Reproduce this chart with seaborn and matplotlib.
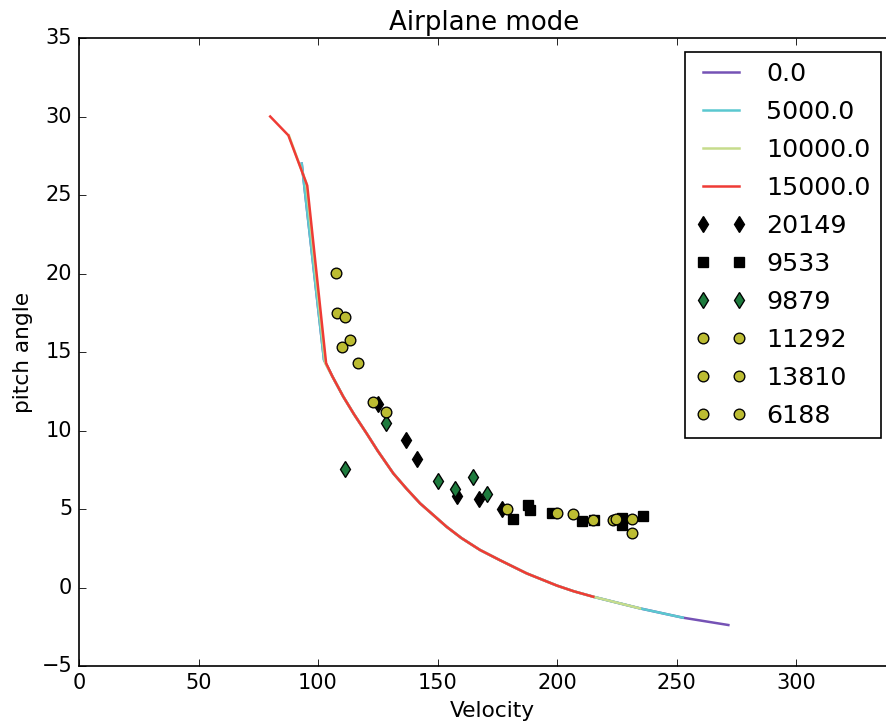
import matplotlib
matplotlib.use("Agg")
import matplotlib.pyplot as plt
import seaborn as sns
import pandas as pd

# ---- data ----
line_labels = ["0.0", "5000.0", "10000.0", "15000.0"]
line_colors = ["#7552b5", "#5bc8d0", "#c6dc8c", "#ef3b35"]

v_0 = [93.2, 102.5, 106.0, 110.6, 115.0, 120.4, 125.0, 131.5, 137.0, 142.7, 148.0,
       153.8, 160.0, 167.8, 176.0, 187.3, 200.0, 207.0, 215.2, 234.7, 252.6, 271.7]
p_0 = [27.0, 14.5, 13.45, 12.15, 11.05, 9.8, 8.7, 7.27, 6.3, 5.36, 4.65,
       3.87, 3.15, 2.39, 1.75, 0.9, 0.12, -0.24, -0.59, -1.33, -1.92, -2.39]

v_5000 = [93.2, 102.5, 106.0, 110.6, 115.0, 120.4, 125.0, 131.5, 137.0, 142.7, 148.0,
          153.8, 160.0, 167.8, 176.0, 187.3, 200.0, 207.0, 215.2, 234.7, 252.6]
p_5000 = [27.0, 14.5, 13.45, 12.15, 11.05, 9.8, 8.7, 7.27, 6.3, 5.36, 4.65,
          3.87, 3.15, 2.39, 1.75, 0.9, 0.12, -0.24, -0.59, -1.33, -1.92]

v_10000 = [87.8, 95.0, 103.0, 106.0, 110.6, 115.0, 120.4, 125.0, 131.5, 137.0, 142.7, 148.0,
           153.8, 160.0, 167.8, 176.0, 187.3, 200.0, 207.0, 215.2, 234.7]
p_10000 = [28.8, 25.8, 14.3, 13.45, 12.15, 11.05, 9.8, 8.7, 7.27, 6.3, 5.36, 4.65,
           3.87, 3.15, 2.39, 1.75, 0.9, 0.12, -0.24, -0.59, -1.33]

v_15000 = [80.0, 87.6, 95.5, 103.4, 106.0, 110.6, 115.0, 120.4, 125.0, 131.5, 137.0, 142.7, 148.0,
           153.8, 160.0, 167.8, 176.0, 187.3, 200.0, 207.0, 215.2]
p_15000 = [30.0, 28.8, 25.6, 14.28, 13.45, 12.15, 11.05, 9.8, 8.7, 7.27, 6.3, 5.36, 4.65,
           3.87, 3.15, 2.39, 1.75, 0.9, 0.12, -0.24, -0.59]

v_20149 = [125.2, 136.7, 141.6, 158.0, 167.4, 177.0]
p_20149 = [11.7, 9.4, 8.17, 5.85, 5.64, 5.02]

v_9533 = [181.6, 187.7, 188.7, 197.8, 210.3, 215.5, 227.2, 227.2, 236.1]
p_9533 = [4.34, 5.28, 4.95, 4.77, 4.24, 4.28, 4.45, 3.95, 4.58]

v_9879 = [111.3, 128.3, 150.0, 157.3, 165.0, 170.6]
p_9879 = [7.53, 10.5, 6.8, 6.27, 7.02, 5.94]

v_11292 = [107.4, 107.8, 111.3, 110.0, 113.4, 116.9]
p_11292 = [20.05, 17.5, 17.2, 15.3, 15.76, 14.3]

v_13810 = [123.1, 128.3, 179.0, 199.8]
p_13810 = [11.8, 11.2, 5.0, 4.77]

v_6188 = [206.8, 215.2, 223.4, 224.6, 231.2, 231.2]
p_6188 = [4.68, 4.32, 4.27, 4.34, 4.34, 3.5]

marker_labels = ["20149", "9533", "9879", "11292", "13810", "6188"]

# ---- figure ----
plt.style.use("classic")
plt.rcParams["font.family"] = ["DejaVu Sans"]
fig = plt.figure(figsize=(886 / 120, 721 / 120), dpi=120, facecolor="white")
ax = fig.add_axes([79 / 886, 55 / 721, (905 - 79) / 886, 628 / 721])
ax.set_facecolor("white")

lines = [(v_0, p_0), (v_5000, p_5000), (v_10000, p_10000), (v_15000, p_15000)]
for (v, p), lab, col in zip(lines, line_labels, line_colors):
    df = pd.DataFrame({"v": v, "p": p})
    sns.lineplot(data=df, x="v", y="p", ax=ax, color=col, linewidth=1.5,
                 label=lab, sort=False, estimator=None)

markers = [
    (v_20149, p_20149, "d", "black"),
    (v_9533, p_9533, "s", "black"),
    (v_9879, p_9879, "d", "#1e7b3e"),
    (v_11292, p_11292, "o", "#bcbc32"),
    (v_13810, p_13810, "o", "#bcbc32"),
    (v_6188, p_6188, "o", "#bcbc32"),
]
for (v, p, m, col), lab in zip(markers, marker_labels):
    df = pd.DataFrame({"v": v, "p": p})
    sns.lineplot(data=df, x="v", y="p", ax=ax, marker=m, linestyle="",
                 color=col, markerfacecolor=col, markeredgecolor="black",
                 markeredgewidth=0.8, markersize=6.4, label=lab,
                 sort=False, estimator=None)

ax.set_xlim(0, (905 - 79) / 2.39)
ax.set_ylim(-5, 35)
ax.set_xticks([0, 50, 100, 150, 200, 250, 300])
ax.set_yticks([-5, 0, 5, 10, 15, 20, 25, 30, 35])
ax.spines["right"].set_visible(False)
ax.tick_params(right=False, labelsize=12.5)
ax.set_title("Airplane mode", fontsize=15.6, x=(484 - 79) / (905 - 79))
ax.set_xlabel("Velocity", fontsize=13)
ax.set_ylabel("pitch angle", fontsize=13)

leg = ax.legend(loc="upper right", bbox_to_anchor=(881 / 886, 1 - 52 / 721),
                bbox_transform=fig.transFigure, borderaxespad=0,
                numpoints=2, fontsize=15.2, labelspacing=0.55,
                frameon=True, fancybox=False)
leg.get_frame().set_edgecolor("black")

fig.savefig("out.png", dpi=120, facecolor="white")
